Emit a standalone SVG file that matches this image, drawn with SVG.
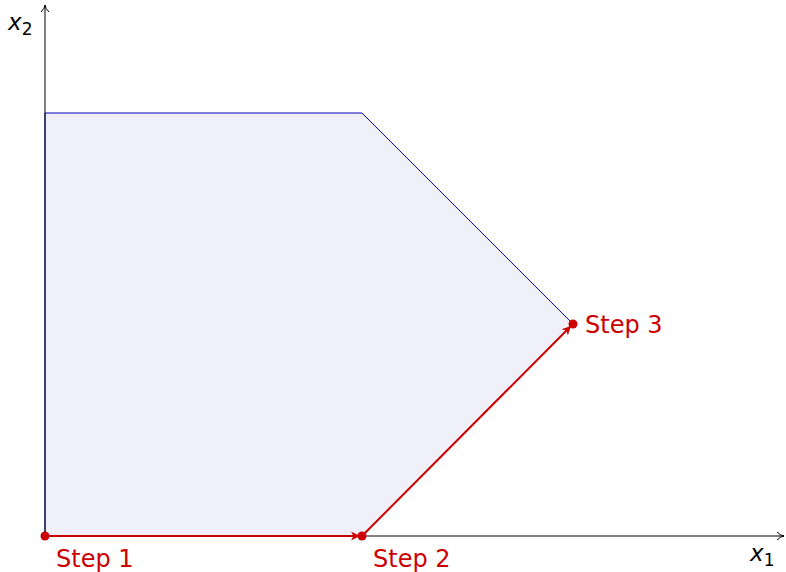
<svg xmlns="http://www.w3.org/2000/svg" width="786" height="572" viewBox="0 0 786 572">
<style>
.lbl{font-family:"DejaVu Sans","Liberation Sans",sans-serif;font-size:24px;fill:#cc0000}
.ax{font-family:"DejaVu Sans","Liberation Sans",sans-serif;font-size:23px;fill:#000}
</style>
<defs>
<marker id="ah" markerWidth="10" markerHeight="10" refX="8" refY="5" orient="auto" markerUnits="userSpaceOnUse">
<path d="M1,1 Q5,5 8,5 Q5,5 1,9" fill="none" stroke="#000" stroke-width="1"/>
</marker>
<marker id="rh" markerWidth="12" markerHeight="12" refX="9" refY="6" orient="auto" markerUnits="userSpaceOnUse">
<path d="M0,1.5 L9,6 L0,10.5 L2.5,6 Z" fill="#cc0000"/>
</marker>
</defs>
<g id="region">
<polygon points="45,536 45,113 362,113 573,324 362,536" fill="#f0f0fb" stroke="none"/>
<polyline points="45,536 45,113 362,113 573,324" fill="none" stroke="#0000b4" stroke-width="1"/>
</g>
<g id="axes">
<line x1="45" y1="536" x2="784" y2="536" stroke="#000" stroke-width="1" marker-end="url(#ah)"/>
<line x1="45" y1="536" x2="45" y2="5" stroke="#000" stroke-width="1" marker-end="url(#ah)"/>
<text class="ax" x="750" y="561" font-style="italic">x<tspan font-size="17" dy="5" font-style="normal">1</tspan></text>
<text class="ax" x="8" y="30" font-style="italic">x<tspan font-size="17" dy="5" font-style="normal">2</tspan></text>
</g>
<g id="connectors">
<line x1="45" y1="536" x2="360" y2="536" stroke="#cc0000" stroke-width="2" marker-end="url(#rh)"/>
<line x1="362" y1="536" x2="571" y2="326" stroke="#cc0000" stroke-width="2" marker-end="url(#rh)"/>
</g>
<g id="step1">
<circle cx="45" cy="536" r="4.5" fill="#cc0000"/>
<text class="lbl" x="56" y="567">Step 1</text>
</g>
<g id="step2">
<circle cx="362" cy="536" r="4.5" fill="#cc0000"/>
<text class="lbl" x="373" y="567">Step 2</text>
</g>
<g id="step3">
<circle cx="573" cy="324" r="4.5" fill="#cc0000"/>
<text class="lbl" x="585" y="333">Step 3</text>
</g>
</svg>
